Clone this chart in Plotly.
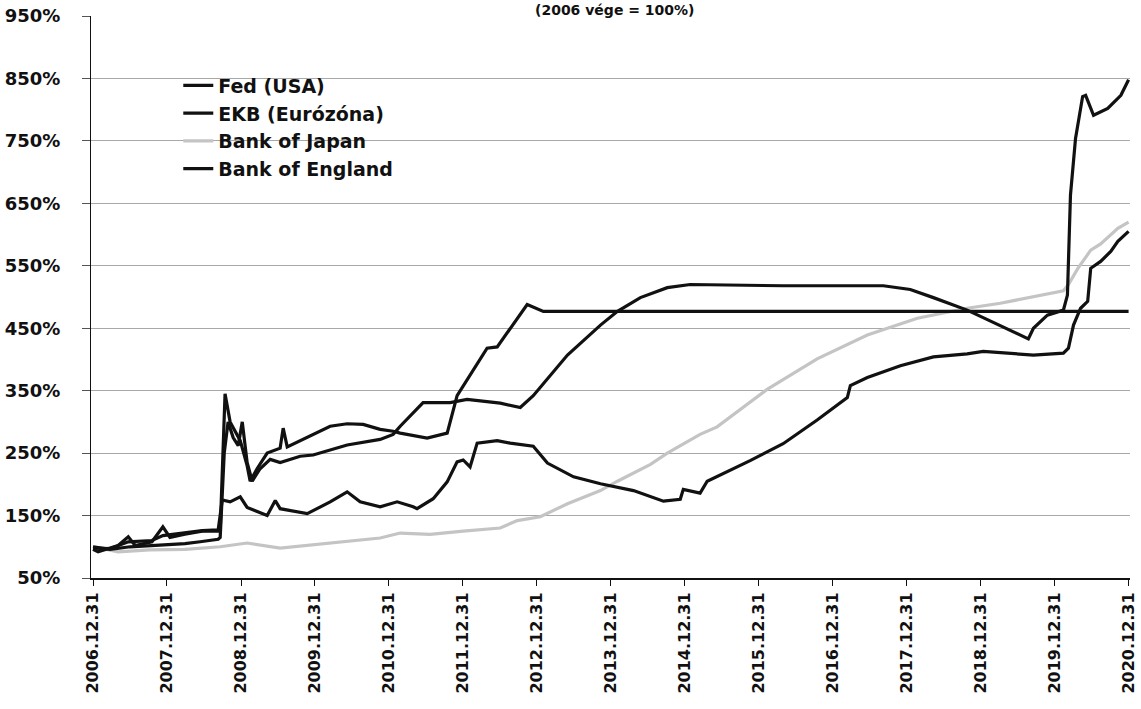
import plotly.graph_objects as go

# ---------------- data ----------------
tick_dates = [f"{y}-12-31" for y in range(2006, 2021)]
tick_labels = [f"{y}.12.31" for y in range(2006, 2021)]
y_ticks = [50, 150, 250, 350, 450, 550, 650, 750, 850, 950]
y_tick_labels = [f"{v}%" for v in y_ticks]

fed_dates = ["2006-12-31", "2007-03-25", "2007-07-02", "2007-10-08", "2007-12-31", "2008-03-29",
             "2008-06-12", "2008-09-09", "2008-09-19", "2008-10-09", "2008-10-28", "2008-11-22",
             "2008-12-17", "2009-01-06", "2009-01-30", "2009-02-24", "2009-04-04", "2009-05-24",
             "2009-07-12", "2009-10-19", "2009-12-22", "2010-06-08", "2010-11-18", "2011-01-21",
             "2011-02-25", "2011-06-18", "2011-10-30", "2012-01-21", "2012-07-03", "2012-10-10",
             "2012-12-13", "2013-05-31", "2013-11-10", "2014-02-02", "2014-05-26", "2014-10-06",
             "2015-01-27", "2016-04-30", "2017-09-07", "2018-01-18", "2018-05-12", "2018-10-26",
             "2019-08-24", "2019-09-18", "2019-11-26", "2020-02-13", "2020-03-04", "2020-03-19",
             "2020-04-13", "2020-05-18", "2020-06-02", "2020-07-11", "2020-09-19", "2020-11-23",
             "2020-12-31"]
fed_values = [100, 96, 100, 102, 104, 105,
              108, 112, 115, 250, 300, 275,
              262, 300, 235, 205, 225, 240,
              235, 245, 247, 263, 272, 280,
              293, 331, 331, 336, 330, 323,
              342, 407, 455, 477, 499, 515,
              520, 518, 518, 512, 499, 479,
              433, 450, 471, 479, 503, 663,
              754, 821, 823, 791, 802, 823,
              848]

ekb_dates = ["2006-12-31", "2007-03-25", "2007-06-23", "2007-10-18", "2007-12-11", "2008-03-29",
             "2008-06-22", "2008-09-09", "2008-09-29", "2008-11-07", "2008-12-27", "2009-01-30",
             "2009-05-09", "2009-06-18", "2009-07-12", "2009-11-23", "2010-03-16", "2010-06-08",
             "2010-08-11", "2010-11-18", "2011-02-10", "2011-04-30", "2011-05-19", "2011-08-07",
             "2011-10-15", "2011-12-03", "2012-01-02", "2012-02-05", "2012-03-11", "2012-06-18",
             "2012-08-21", "2012-12-13", "2013-02-21", "2013-06-30", "2013-11-10", "2014-04-22",
             "2014-09-02", "2014-09-17", "2014-12-09", "2014-12-24", "2015-03-17", "2015-04-21",
             "2015-11-19", "2016-04-30", "2016-10-15", "2017-03-13", "2017-03-28", "2017-06-20",
             "2017-11-30", "2018-05-12", "2018-10-26", "2019-01-13", "2019-09-18", "2020-02-13",
             "2020-03-09", "2020-04-03", "2020-05-08", "2020-06-12", "2020-06-27", "2020-08-15",
             "2020-10-04", "2020-11-08", "2020-12-31"]
ekb_values = [98, 97, 108, 110, 118, 122,
              126, 127, 175, 172, 180, 163,
              150, 174, 161, 153, 172, 188,
              172, 164, 172, 164, 161, 177,
              204, 236, 239, 228, 266, 270,
              266, 261, 234, 212, 201, 190,
              174, 173, 176, 192, 186, 205,
              238, 265, 303, 339, 358, 371,
              390, 404, 409, 413, 407, 410,
              418, 455, 482, 493, 546, 557,
              573, 589, 605]

boj_dates = ["2006-12-31", "2007-05-04", "2007-10-08", "2008-03-29", "2008-09-19", "2009-01-30",
             "2009-07-12", "2009-12-22", "2010-06-08", "2010-11-18", "2011-02-25", "2011-07-23",
             "2012-01-02", "2012-07-03", "2012-09-25", "2013-01-17", "2013-05-31", "2013-11-10",
             "2014-02-02", "2014-07-15", "2014-10-06", "2015-03-17", "2015-06-09", "2016-02-11",
             "2016-10-15", "2017-06-20", "2018-02-22", "2018-06-30", "2018-10-26", "2019-04-08",
             "2019-09-18", "2020-02-13", "2020-03-09", "2020-04-23", "2020-06-27", "2020-08-15",
             "2020-11-08", "2020-12-31"]
boj_values = [100, 92, 95, 96, 100, 106,
              98, 103, 108, 114, 122, 120,
              125, 130, 142, 148, 169, 190,
              205, 232, 250, 280, 292, 352,
              401, 439, 466, 474, 482, 490,
              500, 510, 520, 545, 575, 585,
              610, 620]

boe_dates = ["2006-12-31", "2007-01-25", "2007-05-04", "2007-06-23", "2007-07-27", "2007-10-18",
             "2007-12-11", "2008-01-15", "2008-03-29", "2008-06-22", "2008-09-19", "2008-10-13",
             "2008-11-07", "2008-12-02", "2008-12-27", "2009-01-30", "2009-02-14", "2009-03-20",
             "2009-05-09", "2009-07-12", "2009-07-27", "2009-08-16", "2009-12-22", "2010-03-16",
             "2010-06-08", "2010-08-26", "2010-11-18", "2011-01-21", "2011-02-25", "2011-07-08",
             "2011-10-15", "2011-12-03", "2012-04-29", "2012-06-18", "2012-11-13", "2013-02-01",
             "2020-12-31"]
boe_values = [96, 92, 102, 116, 102, 108,
              132, 115, 120, 125, 125, 345,
              300, 285, 270, 230, 205, 225,
              250, 258, 290, 260, 280, 293,
              297, 296, 288, 285, 282, 274,
              282, 342, 418, 420, 488, 477,
              477]

# ---------------- figure ----------------
FONT = "DejaVu Sans"
fig = go.Figure()

fig.add_trace(go.Scatter(x=boj_dates, y=boj_values, mode="lines", name="Bank of Japan",
                         line=dict(color="#c4c4c4", width=3.2), legendrank=3))
fig.add_trace(go.Scatter(x=ekb_dates, y=ekb_values, mode="lines", name="EKB (Eurózóna)",
                         line=dict(color="#111111", width=3.2), legendrank=2))
fig.add_trace(go.Scatter(x=boe_dates, y=boe_values, mode="lines", name="Bank of England",
                         line=dict(color="#111111", width=3.2), legendrank=4))
fig.add_trace(go.Scatter(x=fed_dates, y=fed_values, mode="lines", name="Fed (USA)",
                         line=dict(color="#111111", width=3.2), legendrank=1))

fig.update_layout(
    width=1141, height=709,
    margin=dict(l=91, r=11, t=16, b=131, autoexpand=False),
    paper_bgcolor="white", plot_bgcolor="white",
    font=dict(family=FONT, color="#111111", weight="bold"),
    showlegend=True,
    legend=dict(x=0.084, y=0.91, xanchor="left", yanchor="top",
                bgcolor="rgba(0,0,0,0)", font=dict(family=FONT, size=19, weight="bold", color="#111111"),
                itemwidth=30),
    annotations=[dict(text="(2006 vége = 100%)", xref="paper", yref="paper", x=0.504, y=1.0285,
                      xanchor="center", yanchor="top", showarrow=False,
                      font=dict(family=FONT, size=14, weight="bold", color="#111111"))],
)

fig.update_xaxes(
    type="date", range=["2006-12-21", "2021-01-07"], automargin=False,
    tickvals=tick_dates, ticktext=tick_labels, tickangle=-90,
    tickfont=dict(family=FONT, size=16, weight="bold", color="#111111"),
    showgrid=False, showline=True, linecolor="#111111", linewidth=2,
    ticks="outside", ticklen=6, tickcolor="#111111", zeroline=False,
)
fig.update_yaxes(
    range=[50, 950], tickvals=y_ticks, ticktext=y_tick_labels, automargin=False,
    tickfont=dict(family=FONT, size=18, weight="bold", color="#111111"),
    showgrid=True, gridcolor="#a8a8a8", gridwidth=1,
    showline=True, linecolor="#111111", linewidth=1,
    ticks="outside", ticklen=8, tickcolor="#555555", zeroline=False,
    ticklabelstandoff=18,
)

fig.write_html("out.html", config={"displayModeBar": False},
               post_script="document.body.style.margin='0';")
